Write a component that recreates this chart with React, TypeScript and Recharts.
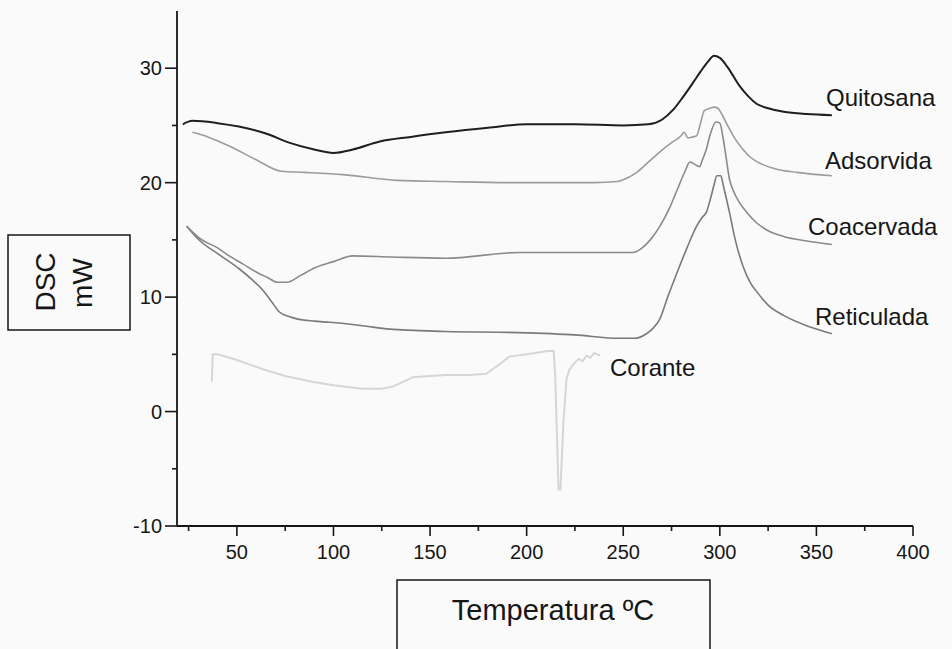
import { LineChart, Line, XAxis, YAxis } from 'recharts';

// DSC curves (temperature ºC -> mW)
const quitosanaT = [22, 27, 40, 51, 65, 77, 90, 100, 110, 124, 140, 158, 180, 200, 225, 250, 263, 270, 276, 281, 286, 290, 294, 297, 300, 304, 310, 315, 319, 325, 333, 345, 358];
const quitosanaV = [25.1, 25.4, 25.2, 24.9, 24.3, 23.5, 22.9, 22.6, 22.9, 23.6, 24.0, 24.4, 24.8, 25.1, 25.1, 25.0, 25.1, 25.5, 26.4, 27.5, 28.7, 29.7, 30.6, 31.1, 30.9, 30.1, 28.5, 27.5, 26.9, 26.5, 26.2, 26.0, 25.9];

const adsorvidaT = [27, 35, 46, 60, 73, 85, 105, 133, 158, 190, 212, 235, 247, 252, 257, 263, 269, 275, 280, 281.5, 283.5, 286, 288, 290, 292, 295, 297, 299, 301, 304, 308, 312, 316, 322, 329, 340, 358];
const adsorvidaV = [24.4, 24.0, 23.2, 22.0, 21.0, 20.9, 20.7, 20.2, 20.1, 20.0, 20.0, 20.0, 20.1, 20.4, 20.9, 21.8, 22.7, 23.5, 24.1, 24.4, 23.9, 24.0, 24.1, 25.2, 26.3, 26.5, 26.6, 26.5, 26.0, 25.0, 23.8, 22.9, 22.2, 21.6, 21.2, 20.9, 20.6];

const coacervadaT = [24, 31, 40, 46, 53, 60, 66, 71, 76, 83, 91, 100, 110, 130, 158, 196, 230, 255, 259, 264, 269, 274, 278, 282, 284.5, 287, 289.5, 291, 293, 295, 298, 300, 301.5, 303, 305, 307, 310, 314, 319, 325, 333, 345, 358];
const coacervadaV = [16.2, 15.1, 14.3, 13.6, 12.9, 12.2, 11.7, 11.3, 11.3, 11.9, 12.6, 13.1, 13.6, 13.5, 13.4, 13.9, 13.9, 13.9, 14.2, 15.0, 16.2, 17.8, 19.4, 21.0, 21.8, 21.6, 21.4, 22.0, 22.9, 24.2, 25.3, 25.2, 24.1, 22.5, 20.3, 19.3, 18.3, 17.4, 16.5, 15.8, 15.3, 14.9, 14.6];

const reticuladaT = [24, 31, 40, 51, 58, 64, 68, 72, 77, 81, 90, 98, 115, 129, 158, 196, 225, 248, 256, 262, 265, 269, 273, 278, 283, 288, 291, 293, 295, 297, 298.5, 300.5, 302, 305, 308, 312, 316, 319, 325, 333, 345, 358];
const reticuladaV = [16.2, 14.9, 13.8, 12.5, 11.5, 10.5, 9.6, 8.7, 8.3, 8.1, 7.9, 7.8, 7.5, 7.2, 7.0, 6.9, 6.7, 6.4, 6.4, 6.8, 7.2, 8.1, 10.0, 12.2, 14.3, 16.2, 17.0, 17.4, 18.5, 19.8, 20.6, 20.6, 19.6, 17.4, 15.0, 12.7, 11.2, 10.5, 9.3, 8.4, 7.5, 6.8];

const coranteT = [37, 37.5, 40, 50, 63.5, 75, 89, 100, 115, 125, 131, 136, 141, 150, 158, 170, 179, 185, 191, 200, 211, 214, 214.8, 216.5, 217.5, 219, 220.6, 222, 224, 227, 229, 231, 233, 235, 238];
const coranteV = [2.6, 5.0, 5.0, 4.5, 3.7, 3.1, 2.6, 2.3, 2.0, 2.0, 2.2, 2.6, 3.0, 3.1, 3.2, 3.2, 3.3, 4.0, 4.8, 5.0, 5.3, 5.3, 3.0, -6.8, -6.8, -1.0, 2.8, 3.6, 4.1, 4.6, 4.4, 4.9, 4.7, 5.1, 4.9];

const xTicks = [25, 50, 75, 100, 125, 150, 175, 200, 225, 250, 275, 300, 325, 350, 375, 400];
const yTicks = [-10, -5, 0, 5, 10, 15, 20, 25, 30];

const toRows = (t: number[], v: number[]) => t.map((temp, i) => ({ t: temp, v: v[i] }));

const FONT = 'Arial, "Liberation Sans", sans-serif';
const INK = '#161616';

const XTick = ({ x, y, payload }: any) => {
  const major = payload.value % 50 === 0;
  return (
    <g>
      <line x1={x} x2={x} y1={y} y2={y + (major ? 10 : 5)} stroke={INK} strokeWidth={1.6} />
      {major && (
        <text x={x} y={y + 33} textAnchor="middle" fontSize={20} fill={INK} fontFamily={FONT}>
          {payload.value}
        </text>
      )}
    </g>
  );
};

const YTick = ({ x, y, payload }: any) => {
  const major = payload.value % 10 === 0;
  return (
    <g>
      <line x1={x} x2={x - (major ? 12 : 5)} y1={y} y2={y} stroke={INK} strokeWidth={1.6} />
      {major && (
        <text x={x - 15} y={y + 7} textAnchor="end" fontSize={20} fill={INK} fontFamily={FONT}>
          {payload.value}
        </text>
      )}
    </g>
  );
};

const seriesLabels = [
  { text: 'Quitosana', x: 826, y: 106 },
  { text: 'Adsorvida', x: 825, y: 169 },
  { text: 'Coacervada', x: 808, y: 235 },
  { text: 'Reticulada', x: 815, y: 325 },
  { text: 'Corante', x: 610, y: 376 },
];

export default function App() {
  return (
    <div style={{ position: 'absolute', left: 0, top: 0, width: 952, height: 649, background: '#fafafa', overflow: 'hidden' }}>
      <LineChart width={952} height={649} margin={{ top: 11, right: 39, bottom: 93, left: 117 }}>
        <XAxis
          type="number"
          dataKey="t"
          domain={[19, 400]}
          ticks={xTicks}
          interval={0}
          height={30}
          tickSize={0}
          tickMargin={0}
          tickLine={false}
          axisLine={{ stroke: INK, strokeWidth: 1.8 }}
          tick={<XTick />}
        />
        <YAxis
          type="number"
          dataKey="v"
          domain={[-10, 35]}
          ticks={yTicks}
          interval={0}
          width={60}
          tickSize={0}
          tickMargin={0}
          tickLine={false}
          axisLine={{ stroke: INK, strokeWidth: 1.8 }}
          tick={<YTick />}
        />
        <Line data={toRows(coranteT, coranteV)} dataKey="v" type="linear" stroke="#d6d6d6" strokeWidth={2} dot={false} isAnimationActive={false} />
        <Line data={toRows(reticuladaT, reticuladaV)} dataKey="v" type="monotone" stroke="#7a7a7a" strokeWidth={1.6} dot={false} isAnimationActive={false} />
        <Line data={toRows(coacervadaT, coacervadaV)} dataKey="v" type="monotone" stroke="#8a8a8a" strokeWidth={1.6} dot={false} isAnimationActive={false} />
        <Line data={toRows(adsorvidaT, adsorvidaV)} dataKey="v" type="monotone" stroke="#9c9c9c" strokeWidth={1.6} dot={false} isAnimationActive={false} />
        <Line data={toRows(quitosanaT, quitosanaV)} dataKey="v" type="monotone" stroke="#1e1e1e" strokeWidth={2} dot={false} isAnimationActive={false} />
      </LineChart>
      <svg width={952} height={649} style={{ position: 'absolute', left: 0, top: 0, pointerEvents: 'none' }}>
        {seriesLabels.map((l) => (
          <text key={l.text} x={l.x} y={l.y} fontSize={24} fill={INK} fontFamily={FONT}>
            {l.text}
          </text>
        ))}
        <rect x={8} y={235} width={122} height={95} fill="none" stroke={INK} strokeWidth={1.5} />
        <text transform="translate(55,282) rotate(-90)" textAnchor="middle" fontSize={28} fill={INK} fontFamily={FONT}>
          DSC
        </text>
        <text transform="translate(92,283) rotate(-90)" textAnchor="middle" fontSize={28} fill={INK} fontFamily={FONT}>
          mW
        </text>
        <rect x={397} y={580} width={313} height={90} fill="none" stroke={INK} strokeWidth={1.5} />
        <text x={553} y={620} textAnchor="middle" fontSize={29} fill={INK} fontFamily={FONT}>
          Temperatura ºC
        </text>
      </svg>
    </div>
  );
}
